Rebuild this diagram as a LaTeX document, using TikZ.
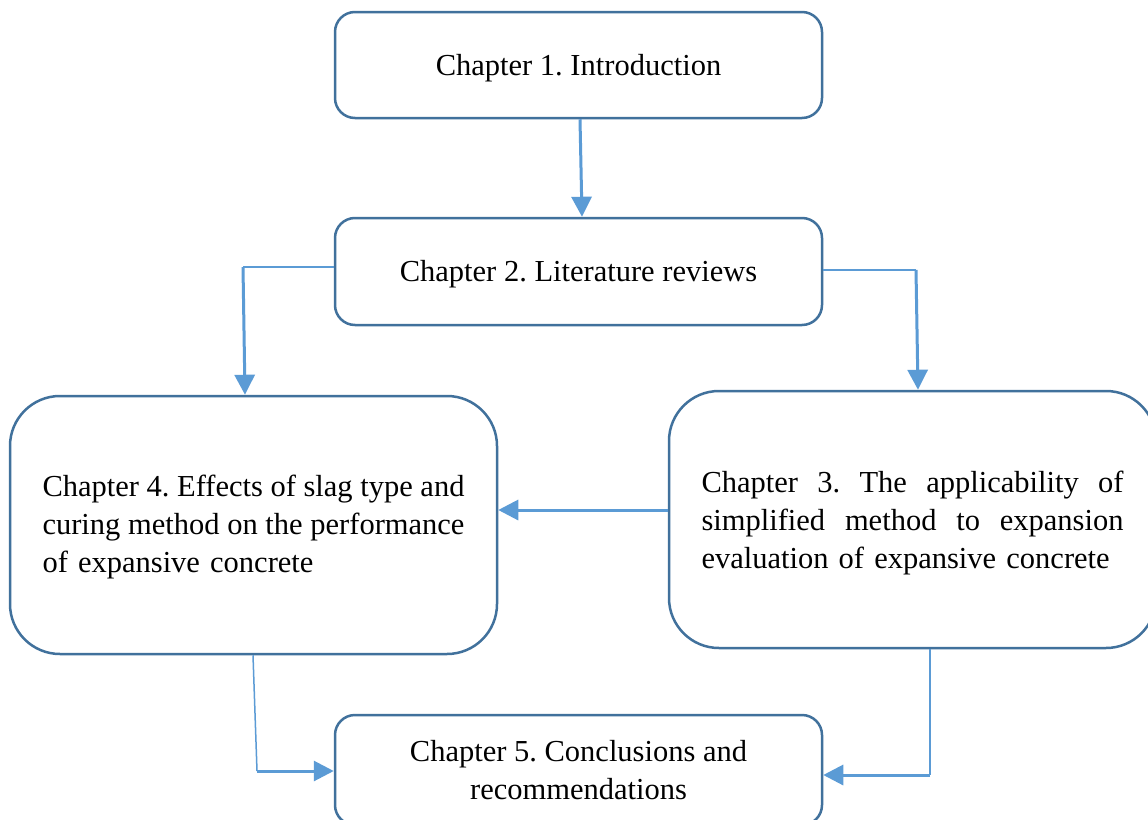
\documentclass[tikz,border=0pt]{standalone}
\usepackage{fontspec}
\setmainfont{Liberation Serif}
\usetikzlibrary{arrows.meta,calc}
\definecolor{bordc}{HTML}{41719C}
\definecolor{arrc}{HTML}{5B9BD5}
\newcommand\js{\hskip 0.25em plus 1fil minus 0.15em}
\newcommand\jline[1]{\leavevmode\hbox to 422pt{#1}}
\begin{document}
\frenchspacing
\begin{tikzpicture}[x=1pt,y=-1pt,
  box/.style={draw=bordc, line width=2.5pt, rounded corners=20pt, minimum width=487pt, inner sep=0pt, font=\fontsize{30.5}{38}\selectfont\frenchspacing},
  bigbox/.style={box, rounded corners=50pt, text width=422pt, align=left},
  thinline/.style={draw=arrc, line width=1.5pt},
  thickarrow/.style={draw=arrc, line width=3pt, -{Triangle[length=20pt,width=20pt]}}]
\useasboundingbox (0,0) rectangle (1148,819);
\clip (0,0) rectangle (1148,819);
\fill[white] (0,0) rectangle (1148,819);

\node[box, minimum height=106pt] (b1) at (578.5,65) {\rule{0pt}{27pt}Chapter 1. Introduction};
\node[box, minimum height=107pt] (b2) at (578.5,271.5) {\rule{0pt}{27pt}Chapter 2. Literature reviews};
\node[bigbox, minimum height=258pt] (b4) at (253.5,525)
  {\jline{\rule{0pt}{26pt}Chapter\js 4.\js Effects\js of\js slag\js type\js and}\\
   \jline{curing\js method\js on\js the\js performance}\\
   of expansive concrete};
\node[bigbox, minimum height=257pt] (b3) at (912.5,519.5)
  {\jline{\rule{0pt}{29pt}Chapter\js 3.\js The\js applicability\js of}\\
   \jline{simplified\js method\js to\js expansion}\\
   evaluation of expansive concrete};
\node[box, minimum height=110pt, align=center] (b5) at (578.5,770)
  {Chapter 5. Conclusions and\\ recommendations};

\coordinate (c1) at (243,267);
\coordinate (c2) at (916,270);
\coordinate (c3) at (257,771);
\coordinate (c4) at (930,775);

\draw[thickarrow] (b1.south -| 580,0) -- (b2.north -| 582,0);
\draw[thinline] (b2.west |- c1) -- (c1);
\draw[thickarrow] (c1) -- (b4.north -| 245,0);
\draw[thinline] (b2.east |- c2) -- (c2);
\draw[thickarrow] (c2) -- (b3.north -| 918,0);
\draw[thickarrow] (b3.west |- 0,510) -- (b4.east |- 0,510);
\draw[thinline] (b4.south -| 253,0) -- (c3);
\draw[thickarrow] (c3) -- (b5.west |- c3);
\draw[thinline] (b3.south -| c4) -- (c4);
\draw[thickarrow] (c4) -- (b5.east |- c4);
\end{tikzpicture}
\end{document}
